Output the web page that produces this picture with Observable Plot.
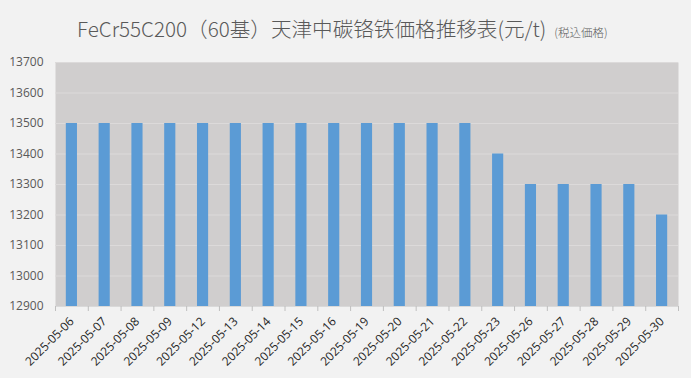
<!DOCTYPE html>
<html>
<head>
<meta charset="utf-8">
<script src="https://cdn.jsdelivr.net/npm/d3@7"></script>
<script src="https://cdn.jsdelivr.net/npm/@observablehq/plot@0.6"></script>
<style>
  html, body { margin: 0; padding: 0; background: #f2f2f2; }
  #wrap { position: relative; width: 691px; height: 378px; overflow: hidden; }
  #title { position: absolute; left: 77px; top: 14px; white-space: nowrap;
    font-family: "Noto Sans CJK JP", "Noto Sans", sans-serif; font-weight: 300;
    font-size: 20.6px; color: #595959; line-height: 28px; }
  #title small { font-size: 11.5px; margin-left: 8px; }
</style>
</head>
<body>
<div id="wrap">
  <div id="chart"></div>
  <div id="title">FeCr55C200（60基）天津中碳铬铁価格推移表(元/t)<small>(税込価格)</small></div>
</div>
<script>
const dates = ["2025-05-06","2025-05-07","2025-05-08","2025-05-09","2025-05-12","2025-05-13","2025-05-14","2025-05-15","2025-05-16","2025-05-19","2025-05-20","2025-05-21","2025-05-22","2025-05-23","2025-05-26","2025-05-27","2025-05-28","2025-05-29","2025-05-30"];
const prices = [13500,13500,13500,13500,13500,13500,13500,13500,13500,13500,13500,13500,13500,13400,13300,13300,13300,13300,13200];
const yTicks = [12900,13000,13100,13200,13300,13400,13500,13600,13700];

const data = dates.map((d, i) => ({date: d, price: prices[i]}));
const W = 691, H = 378, mL = 55, mR = 13, mT = 62, mB = 72;
const step = (W - mL - mR) / dates.length;

const chart = Plot.plot({
  width: W, height: H,
  marginLeft: mL, marginRight: mR, marginTop: mT, marginBottom: mB,
  style: {background: "#f2f2f2", fontFamily: "'Open Sans', 'Noto Sans', sans-serif"},
  x: {domain: dates, paddingInner: 0.66, paddingOuter: 0.33, round: false, label: null},
  y: {domain: [12900, 13700], ticks: yTicks, label: null},
  marks: [
    Plot.frame({fill: "#d0cece", stroke: null}),
    Plot.gridY(yTicks, {stroke: "#dcdada", strokeOpacity: 1, strokeWidth: 1}),
    Plot.barY(data, {x: "date", y1: 12900, y2: "price", fill: "#5b9bd5"}),
    Plot.ruleY([12900], {stroke: "#d9d9d9", strokeWidth: 1}),
    Plot.ruleX(dates, {x: d => d, y1: 12900, y2: 12900, insetBottom: -5, dx: -step / 2, stroke: "#bfbfbf"}),
    Plot.ruleX([dates[dates.length - 1]], {x: d => d, y1: 12900, y2: 12900, insetBottom: -5, dx: step / 2, stroke: "#bfbfbf"}),
    Plot.axisY(yTicks, {tickSize: 0, tickPadding: 12, fontSize: 12, fill: "#595959", tickFormat: d => String(d)}),
    Plot.axisX({tickSize: 0, tickPadding: 13, tickRotate: -45, fontSize: 12, fill: "#262626"})
  ]
});
document.getElementById("chart").appendChild(chart);
</script>
</body>
</html>
